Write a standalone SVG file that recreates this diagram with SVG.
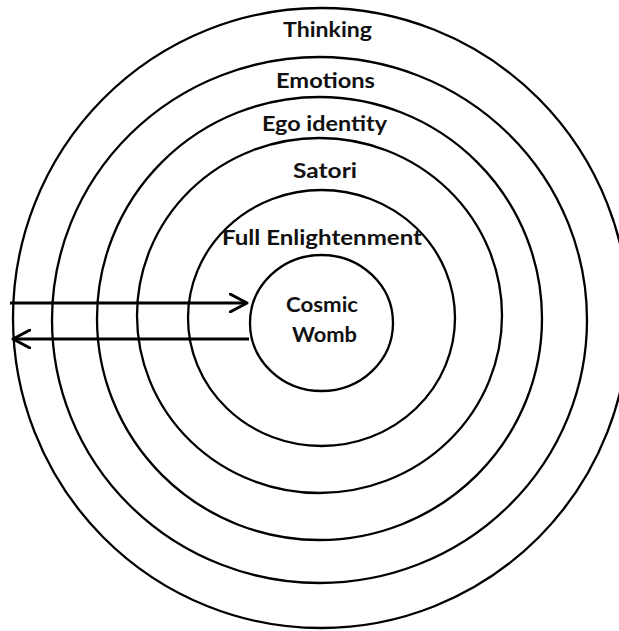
<svg xmlns="http://www.w3.org/2000/svg" width="619" height="631" viewBox="0 0 619 631">
  <defs>
    <style>
      .ring { fill: none; stroke: #000; stroke-width: 2.3; }
      .label { font-family: Lato, "Open Sans", "Liberation Sans", sans-serif; font-weight: bold; font-size: 20px; fill: #111; }
      .conn { fill: none; stroke: #000; stroke-width: 3; }
    </style>
    <marker id="chev" viewBox="0 0 20 20" refX="18" refY="10" markerWidth="20" markerHeight="20" markerUnits="userSpaceOnUse" orient="auto">
      <path d="M1,1 L18,10 L1,19" fill="none" stroke="#000" stroke-width="3" stroke-linecap="round" stroke-linejoin="round"/>
    </marker>
  </defs>
  <rect width="619" height="631" fill="#fff"/>
  <g id="thinking">
    <ellipse class="ring" cx="321" cy="318" rx="308" ry="310"/>
    <text class="label" x="283" y="37" textLength="89" lengthAdjust="spacingAndGlyphs">Thinking</text>
  </g>
  <g id="emotions">
    <ellipse class="ring" cx="319.5" cy="320" rx="267.5" ry="263"/>
    <text class="label" x="276" y="88" textLength="99" lengthAdjust="spacingAndGlyphs">Emotions</text>
  </g>
  <g id="ego-identity">
    <ellipse class="ring" cx="319.5" cy="318.5" rx="222.5" ry="221.5"/>
    <text class="label" x="262" y="131" textLength="125" lengthAdjust="spacingAndGlyphs">Ego identity</text>
  </g>
  <g id="satori">
    <ellipse class="ring" cx="319.5" cy="315.5" rx="182.5" ry="177.5"/>
    <text class="label" x="293" y="178" textLength="64" lengthAdjust="spacingAndGlyphs">Satori</text>
  </g>
  <g id="full-enlightenment">
    <ellipse class="ring" cx="321.5" cy="318" rx="133.5" ry="128"/>
    <text class="label" x="222" y="245" textLength="200" lengthAdjust="spacingAndGlyphs">Full Enlightenment</text>
  </g>
  <g id="cosmic-womb">
    <ellipse class="ring" cx="321.5" cy="323" rx="71.5" ry="68"/>
    <text class="label" x="286" y="312" textLength="72" lengthAdjust="spacingAndGlyphs">Cosmic</text>
    <text class="label" x="292" y="342" textLength="65" lengthAdjust="spacingAndGlyphs">Womb</text>
  </g>
  <g id="connectors">
    <line class="conn" x1="10" y1="303" x2="247" y2="303" marker-end="url(#chev)"/>
    <line class="conn" x1="249" y1="339" x2="13" y2="339" marker-end="url(#chev)"/>
  </g>
</svg>
